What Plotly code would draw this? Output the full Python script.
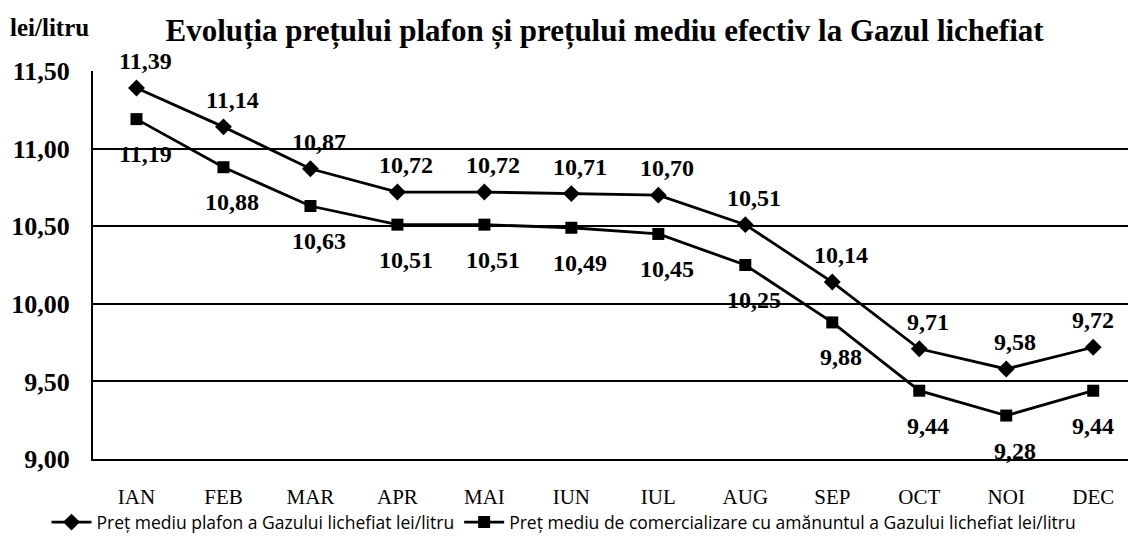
import plotly.graph_objects as go

months = ["IAN", "FEB", "MAR", "APR", "MAI", "IUN", "IUL", "AUG", "SEP", "OCT", "NOI", "DEC"]
plafon = [11.39, 11.14, 10.87, 10.72, 10.72, 10.71, 10.70, 10.51, 10.14, 9.71, 9.58, 9.72]
mediu = [11.19, 10.88, 10.63, 10.51, 10.51, 10.49, 10.45, 10.25, 9.88, 9.44, 9.28, 9.44]
name1 = "Preț mediu plafon a Gazului lichefiat lei/litru"
name2 = "Preț mediu de comercializare cu amănuntul a Gazului lichefiat lei/litru"

def fmt(v):
    return f"{v:.2f}".replace(".", ",")

serif = "Liberation Serif, Times New Roman, serif"
label_font = dict(family=serif, size=24, color="black", weight="bold")

fig = go.Figure()
fig.add_trace(go.Scatter(
    x=months, y=plafon, name=name1, mode="lines+markers",
    line=dict(color="black", width=2.8),
    marker=dict(symbol="diamond", size=13, color="black"),
    cliponaxis=False,
))
fig.add_trace(go.Scatter(
    x=months, y=mediu, name=name2, mode="lines+markers",
    line=dict(color="black", width=2.8),
    marker=dict(symbol="square", size=12, color="black"),
    cliponaxis=False,
))

annotations = []
last = len(months) - 1
for i, (m, v) in enumerate(zip(months, plafon)):
    annotations.append(dict(x=m, y=v, xref="x", yref="y", text=fmt(v), showarrow=False,
                            xanchor="center", yanchor="middle",
                            xshift=0 if i == last else 9, yshift=27,
                            font=label_font))
for i, (m, v) in enumerate(zip(months, mediu)):
    annotations.append(dict(x=m, y=v, xref="x", yref="y", text=fmt(v), showarrow=False,
                            xanchor="center", yanchor="middle",
                            xshift=0 if i == last else 9, yshift=-35,
                            font=label_font))
annotations.append(dict(
    text="<b>lei/litru</b>", xref="paper", yref="paper",
    x=-0.082, y=1.113, xanchor="left", yanchor="middle", showarrow=False,
    font=dict(family=serif, size=25, color="black"),
))

fig.update_layout(
    width=1128, height=544,
    margin=dict(l=93, r=0, t=71, b=85, autoexpand=False),
    paper_bgcolor="white", plot_bgcolor="white",
    separators=", ",
    showlegend=True,
    title=dict(
        text="<b>Evoluția prețului plafon și prețului mediu efectiv la Gazul lichefiat</b>",
        x=0.536, xanchor="center", y=0.945, yanchor="middle",
        font=dict(family=serif, size=31, color="black"),
    ),
    legend=dict(
        orientation="h", xref="container", x=0.5, xanchor="center",
        yref="container", y=0.04, yanchor="middle",
        font=dict(family="Open Sans, sans-serif", size=17.5, color="black"),
        itemwidth=40, tracegroupgap=0,
    ),
    annotations=annotations,
)
fig.update_xaxes(
    type="category", range=[-0.5, 11.4],
    showline=True, linecolor="black", linewidth=2,
    showgrid=False, ticks="", ticklabelstandoff=18,
    tickfont=dict(family=serif, size=21, color="black"),
)
fig.update_yaxes(
    range=[9.0, 11.5], dtick=0.5, tickformat=".2f",
    showline=True, linecolor="black", linewidth=2,
    showgrid=True, gridcolor="black", gridwidth=1.8,
    zeroline=False, ticks="", ticklabelstandoff=16,
    tickfont=dict(family=serif, size=26, color="black", weight="bold"),
)

fig.write_html("out.html", config={"displayModeBar": False},
               post_script="document.body.style.margin='0';")
